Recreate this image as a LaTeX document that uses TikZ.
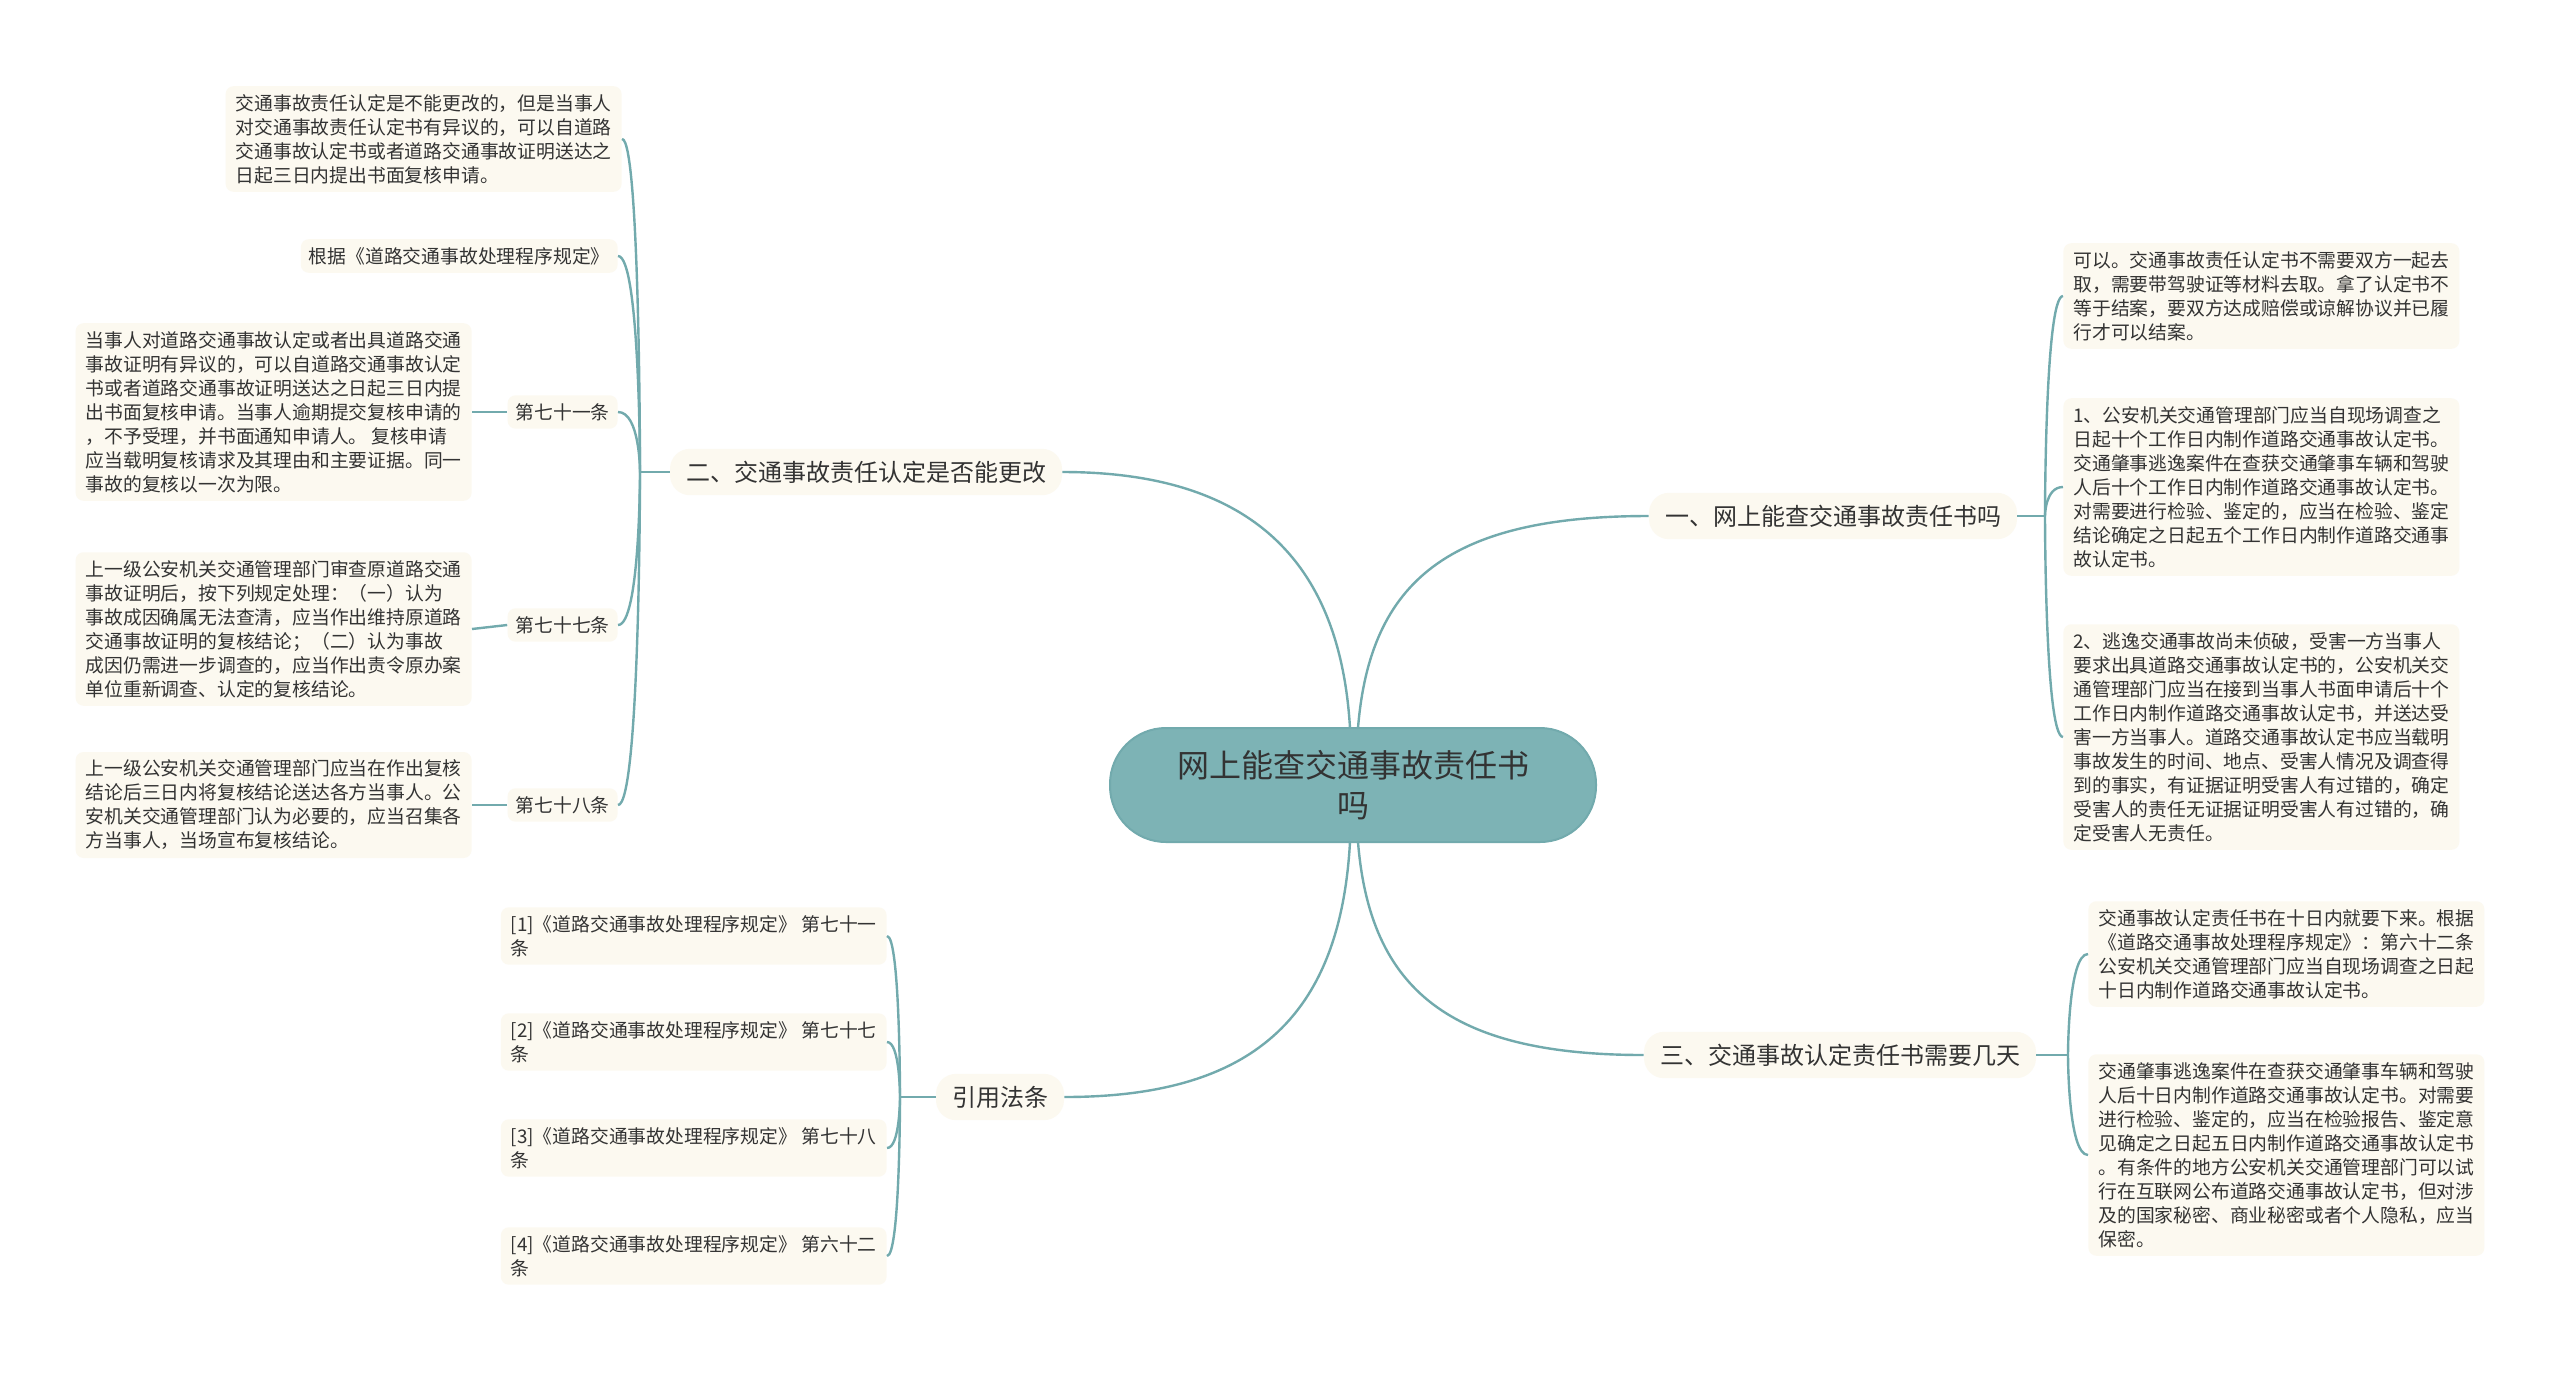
\documentclass[tikz,border=0pt]{standalone}
\usepackage{fontspec}
\setmainfont{Noto Sans CJK SC}
\begin{document}
\begin{tikzpicture}[x=0.5pt,y=-0.5pt,
  leaf/.style={fill=cream,rounded corners=4pt,inner xsep=5pt,inner ysep=4pt,align=left,font=\fontsize{9.4}{12}\selectfont,text=txt},
  lab/.style={fill=cream,rounded corners=4pt,inner sep=4pt,font=\fontsize{9.4}{12}\selectfont,text=txt},
  br/.style={fill=cream,rounded corners=10pt,inner xsep=8pt,inner ysep=6pt,font=\fontsize{12}{14}\selectfont,text=txt},
  ln/.style={draw=teal2,line width=1.2pt}]
\definecolor{cream}{HTML}{FCF9F0}
\definecolor{txt}{HTML}{333333}
\definecolor{teal2}{HTML}{72AAAD}
\definecolor{cfill}{HTML}{7DB3B5}
\useasboundingbox (0,0) rectangle (2560,1372);
\fill[white] (0,0) rectangle (2560,1372);

\node[fill=cfill,draw=teal2,line width=1pt,rounded corners=28pt,minimum width=243pt,minimum height=57pt,align=center,font=\fontsize{16}{20}\selectfont,text=txt] (c) at (1353,785) {网上能查交通事故责任书\\吗};

\node[br] (b2) at (866,472) {二、交通事故责任认定是否能更改};
\node[br] (b1) at (1833,516) {一、网上能查交通事故责任书吗};
\node[br] (b3) at (1840,1055) {三、交通事故认定责任书需要几天};
\node[br] (b4) at (1000,1097) {引用法条};

% center to branches
\draw[ln] (1350,728) .. controls (1340,560) and (1250,472) .. (b2.east);
\draw[ln] (1358,728) .. controls (1370,580) and (1450,516) .. (b1.west);
\draw[ln] (1358,842) .. controls (1370,990) and (1450,1055) .. (b3.west);
\draw[ln] (1350,842) .. controls (1340,1020) and (1250,1097) .. (b4.east);

% branch 2 children
\node[leaf,anchor=east] (l1) at (622,139) {交通事故责任认定是不能更改的，但是当事人\\对交通事故责任认定书有异议的，可以自道路\\交通事故认定书或者道路交通事故证明送达之\\日起三日内提出书面复核申请。};
\node[lab,anchor=east] (l2) at (618,256) {根据《道路交通事故处理程序规定》};
\node[lab,anchor=east] (a71) at (618,412) {第七十一条};
\node[lab,anchor=east] (a77) at (618,625) {第七十七条};
\node[lab,anchor=east] (a78) at (618,805) {第七十八条};
\coordinate (j2) at (640,472);
\draw[ln] (b2.west) -- (j2);
\foreach \n in {l1,l2,a71,a77,a78}
  \draw[ln] (j2) .. controls (640,472) and (640,0 |- \n.east) .. (\n.east);

\node[leaf,anchor=east] (t71) at (472,412) {当事人对道路交通事故认定或者出具道路交通\\事故证明有异议的，可以自道路交通事故认定\\书或者道路交通事故证明送达之日起三日内提\\出书面复核申请。当事人逾期提交复核申请的\\，不予受理，并书面通知申请人。 复核申请\\应当载明复核请求及其理由和主要证据。同一\\事故的复核以一次为限。};
\node[leaf,anchor=east] (t77) at (472,629) {上一级公安机关交通管理部门审查原道路交通\\事故证明后，按下列规定处理：（一）认为\\事故成因确属无法查清，应当作出维持原道路\\交通事故证明的复核结论；（二）认为事故\\成因仍需进一步调查的，应当作出责令原办案\\单位重新调查、认定的复核结论。};
\node[leaf,anchor=east] (t78) at (472,805) {上一级公安机关交通管理部门应当在作出复核\\结论后三日内将复核结论送达各方当事人。公\\安机关交通管理部门认为必要的，应当召集各\\方当事人，当场宣布复核结论。};
\draw[ln] (a71.west) -- (t71.east);
\draw[ln] (a77.west) -- (t77.east);
\draw[ln] (a78.west) -- (t78.east);

% branch 1 children
\node[leaf,anchor=west] (r1) at (2063,296) {可以。交通事故责任认定书不需要双方一起去\\取，需要带驾驶证等材料去取。拿了认定书不\\等于结案，要双方达成赔偿或谅解协议并已履\\行才可以结案。};
\node[leaf,anchor=west] (r2) at (2063,487) {1、公安机关交通管理部门应当自现场调查之\\日起十个工作日内制作道路交通事故认定书。\\交通肇事逃逸案件在查获交通肇事车辆和驾驶\\人后十个工作日内制作道路交通事故认定书。\\对需要进行检验、鉴定的，应当在检验、鉴定\\结论确定之日起五个工作日内制作道路交通事\\故认定书。};
\node[leaf,anchor=west] (r3) at (2063,737) {2、逃逸交通事故尚未侦破，受害一方当事人\\要求出具道路交通事故认定书的，公安机关交\\通管理部门应当在接到当事人书面申请后十个\\工作日内制作道路交通事故认定书，并送达受\\害一方当事人。道路交通事故认定书应当载明\\事故发生的时间、地点、受害人情况及调查得\\到的事实，有证据证明受害人有过错的，确定\\受害人的责任无证据证明受害人有过错的，确\\定受害人无责任。};
\coordinate (j1) at (2045,516);
\draw[ln] (b1.east) -- (j1);
\foreach \n in {r1,r2,r3}
  \draw[ln] (j1) .. controls (2045,516) and (2045,0 |- \n.west) .. (\n.west);

% branch 3 children
\node[leaf,anchor=west] (s1) at (2088,954) {交通事故认定责任书在十日内就要下来。根据\\《道路交通事故处理程序规定》：第六十二条\\公安机关交通管理部门应当自现场调查之日起\\十日内制作道路交通事故认定书。};
\node[leaf,anchor=west] (s2) at (2088,1155) {交通肇事逃逸案件在查获交通肇事车辆和驾驶\\人后十日内制作道路交通事故认定书。对需要\\进行检验、鉴定的，应当在检验报告、鉴定意\\见确定之日起五日内制作道路交通事故认定书\\。有条件的地方公安机关交通管理部门可以试\\行在互联网公布道路交通事故认定书，但对涉\\及的国家秘密、商业秘密或者个人隐私，应当\\保密。};
\coordinate (j3) at (2068,1055);
\draw[ln] (b3.east) -- (j3);
\foreach \n in {s1,s2}
  \draw[ln] (j3) .. controls (2068,1055) and (2068,0 |- \n.west) .. (\n.west);

% branch 4 children
\node[leaf,anchor=east] (f1) at (887,936) {[1]《道路交通事故处理程序规定》 第七十一\\条};
\node[leaf,anchor=east] (f2) at (887,1042) {[2]《道路交通事故处理程序规定》 第七十七\\条};
\node[leaf,anchor=east] (f3) at (887,1148) {[3]《道路交通事故处理程序规定》 第七十八\\条};
\node[leaf,anchor=east] (f4) at (887,1256) {[4]《道路交通事故处理程序规定》 第六十二\\条};
\coordinate (j4) at (900,1097);
\draw[ln] (b4.west) -- (j4);
\foreach \n in {f1,f2,f3,f4}
  \draw[ln] (j4) .. controls (900,1097) and (900,0 |- \n.east) .. (\n.east);
\end{tikzpicture}
\end{document}
